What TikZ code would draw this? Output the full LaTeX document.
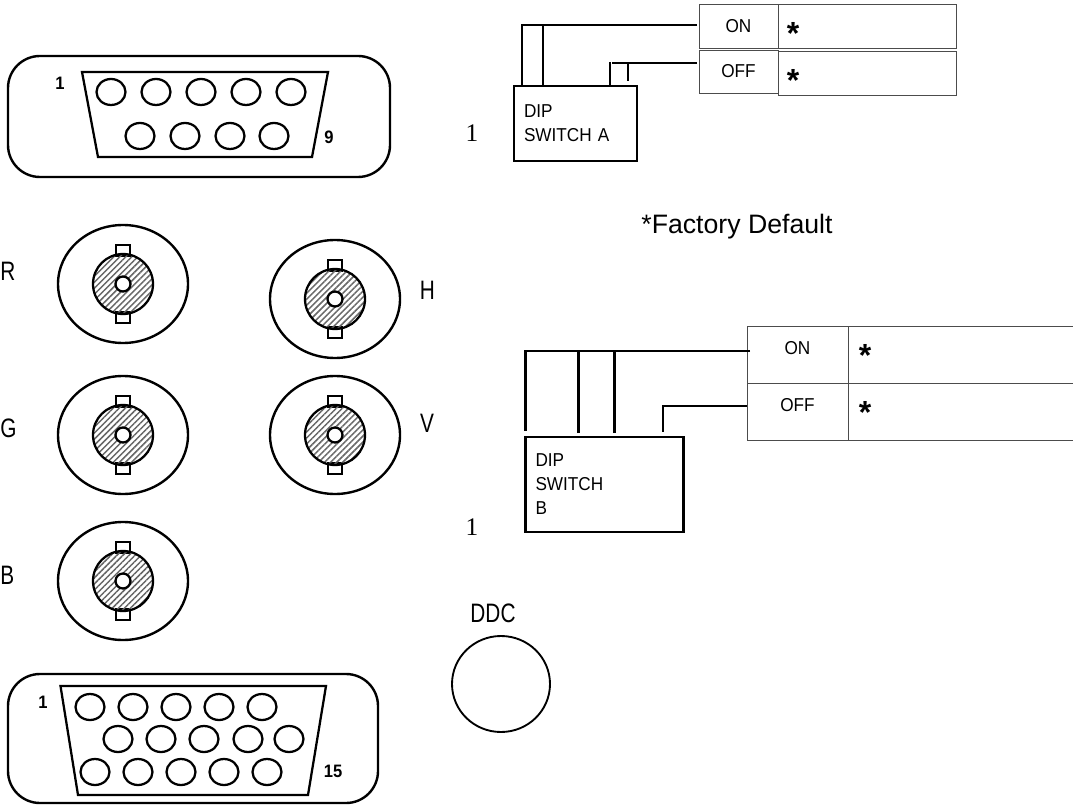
\documentclass[tikz,border=0pt]{standalone}
\usepackage{fontspec}
\setmainfont{Liberation Sans}
\newfontfamily\numfont{Liberation Serif}
\newfontfamily\narrowfont[FakeStretch=0.92]{Liberation Sans}
\newfontfamily\tallfont[FakeStretch=0.78]{Liberation Sans}
\usetikzlibrary{patterns.meta,shapes.geometric}
\def\px{0.75pt}
\tikzset{
  shell/.style={draw, line width=1.8pt, rounded corners=24pt, inner sep=0, outer sep=0},
  shroud/.style={line width=1.7pt, line join=miter},
  pin/.style={draw, ellipse, line width=1.7pt, inner sep=0, minimum width=29*\px, minimum height=26*\px},
  pinlabel/.style={font=\narrowfont\fontsize{13.5}{15}\selectfont\bfseries, inner sep=0},
  bnclabel/.style={font=\tallfont\fontsize{20}{22}\selectfont, inner sep=0},
  dipbox/.style={draw, line width=1.8pt, inner sep=0, outer sep=0, align=left, font=\narrowfont\fontsize{14}{18}\selectfont},
  cell/.style={draw=black!70, line width=0.7pt, inner sep=0, outer sep=0, font=\narrowfont\fontsize{14}{15}\selectfont},
  star/.style={font=\fontsize{24}{24}\selectfont\bfseries, inner sep=0},
  wire/.style={line width=2pt},
  thinwire/.style={line width=1.2pt},
  index/.style={font=\numfont\fontsize{19}{20}\selectfont, inner sep=0}
}
\begin{document}
\begin{tikzpicture}[x=0.75pt, y=-0.75pt]
  \useasboundingbox (0, 0) rectangle (1073, 805);

  % 9 pin connector
  \node[shell, minimum width=382*\px, minimum height=121*\px] (shellnine) at (199, 116.5) {};
  \draw[shroud] (82, 72) -- (328, 72) -- (312, 157) -- (98, 157) -- cycle;
  \foreach \x [count=\i] in {111, 156, 201, 246, 291}
    \node[pin] (ninetop\i) at (\x, 92) {};
  \foreach \x [count=\i] in {140, 185, 230, 274}
    \node[pin] (ninelow\i) at (\x, 136) {};
  \node[pinlabel] (nineone) at (60, 83) {1};
  \node[pinlabel] (ninelast) at (329, 137) {9};

  % coax connectors
  \foreach \name/\x/\y in {R/123/284, H/335/299, G/123/435, V/335/435, B/123/581} {
    \node[draw, ellipse, line width=1.8pt, inner sep=0, minimum width=130*\px, minimum height=118*\px] (outer\name) at (\x, \y) {};
    \draw[line width=1.4pt] (\x-7, \y-28) rectangle (\x+7, \y-39);
    \draw[line width=1.4pt] (\x-7, \y+28) rectangle (\x+7, \y+39);
    \node[draw, circle, line width=1.7pt, inner sep=0, minimum size=60*\px,
      pattern={Lines[angle=45, distance=3.2pt, line width=1.1pt]}, pattern color=black!60] (shield\name) at (\x, \y) {};
    \node[draw, circle, fill=white, line width=1.7pt, inner sep=0, minimum size=15*\px] (core\name) at (\x, \y) {};
  }
  \node[bnclabel, anchor=west] (labelR) at (0, 271) {R};
  \node[bnclabel] (labelH) at (427.5, 290) {H};
  \node[bnclabel, anchor=west] (labelG) at (0, 428) {G};
  \node[bnclabel] (labelV) at (427, 423) {V};
  \node[bnclabel, anchor=west] (labelB) at (0, 575) {B};

  % 15 pin connector
  \node[shell, minimum width=370*\px, minimum height=129*\px] (shellfifteen) at (193, 738.5) {};
  \draw[shroud] (60.5, 686) -- (326, 686) -- (308, 795) -- (78, 795) -- cycle;
  \foreach \x [count=\i] in {90, 133, 176, 219, 262}
    \node[pin] (fifteentop\i) at (\x, 707) {};
  \foreach \x [count=\i] in {118, 161, 204, 248, 289}
    \node[pin] (fifteenmid\i) at (\x, 739) {};
  \foreach \x [count=\i] in {95, 138, 181, 224, 267}
    \node[pin] (fifteenlow\i) at (\x, 772) {};
  \node[pinlabel] (fifteenone) at (43, 702) {1};
  \node[pinlabel] (fifteenlast) at (333, 771) {15};

  % switch A
  \node[dipbox, minimum width=123*\px, minimum height=75*\px, text width=103*\px] (dipA) at (575.5, 123.5) {DIP\\SWITCH A};
  \node[cell, minimum width=79*\px, minimum height=44*\px] (onA) at (738.5, 26) {ON};
  \node[cell, minimum width=178*\px, minimum height=44*\px] (onAval) at (867, 26) {};
  \node[cell, minimum width=79*\px, minimum height=43*\px] (offA) at (738.5, 71.5) {OFF};
  \node[cell, minimum width=178*\px, minimum height=44*\px] (offAval) at (867, 73) {};
  \node[star] (starA1) at (793, 33) {*};
  \node[star] (starA2) at (793, 80) {*};
  \coordinate (pinA1) at (522, 86);
  \coordinate (pinA2) at (543, 86);
  \coordinate (pinA3) at (610, 86);
  \coordinate (pinA4) at (628, 81);
  \coordinate (tapA) at (697, 25);
  \coordinate (tapB) at (697, 63);
  \draw[wire] (tapA) -| (pinA1);
  \draw[wire] (pinA2) -- (pinA2 |- tapA);
  \draw[wire] (tapB) -- (612, 63);
  \draw[wire] (pinA3) -- (610, 62);
  \draw[wire] (pinA4) -- (pinA4 |- tapB);
  \node[index] (indexA) at (472, 133) {1};

  \node[font=\fontsize{20}{22}\selectfont, inner sep=0] (factory) at (737, 227) {*Factory Default};

  % switch B
  \node[dipbox, minimum width=158*\px, minimum height=95*\px, text width=138*\px] (dipB) at (604.5, 484.5) {DIP\\SWITCH\\B};
  \node[cell, minimum width=101*\px, minimum height=57*\px, text depth=14*\px] (onB) at (797.5, 354.5) {ON};
  \node[cell, minimum width=226*\px, minimum height=57*\px] (onBval) at (961, 354.5) {};
  \node[cell, minimum width=101*\px, minimum height=57*\px, text depth=14*\px] (offB) at (797.5, 411.5) {OFF};
  \node[cell, minimum width=226*\px, minimum height=57*\px] (offBval) at (961, 411.5) {};
  \node[star] (starB1) at (865, 355) {*};
  \node[star] (starB2) at (865, 412) {*};
  \coordinate (pinB1) at (525.5, 431);
  \coordinate (pinB2) at (578.5, 433);
  \coordinate (pinB3) at (614.5, 433);
  \coordinate (pinB4) at (663, 432);
  \coordinate (tapC) at (750, 351);
  \coordinate (tapD) at (747, 406);
  \draw[wire] (tapC) -| (pinB1);
  \draw[wire] (pinB2) -- (pinB2 |- tapC);
  \draw[wire] (pinB3) -- (pinB3 |- tapC);
  \draw[thinwire] (tapD) -| (pinB4);
  \node[index] (indexB) at (472, 527) {1};

  % ddc port
  \node[bnclabel] (ddc) at (493, 613) {DDC};
  \node[draw, ellipse, line width=1.4pt, inner sep=0, minimum width=98*\px, minimum height=96*\px] (ddcport) at (501, 684) {};
\end{tikzpicture}
\end{document}
